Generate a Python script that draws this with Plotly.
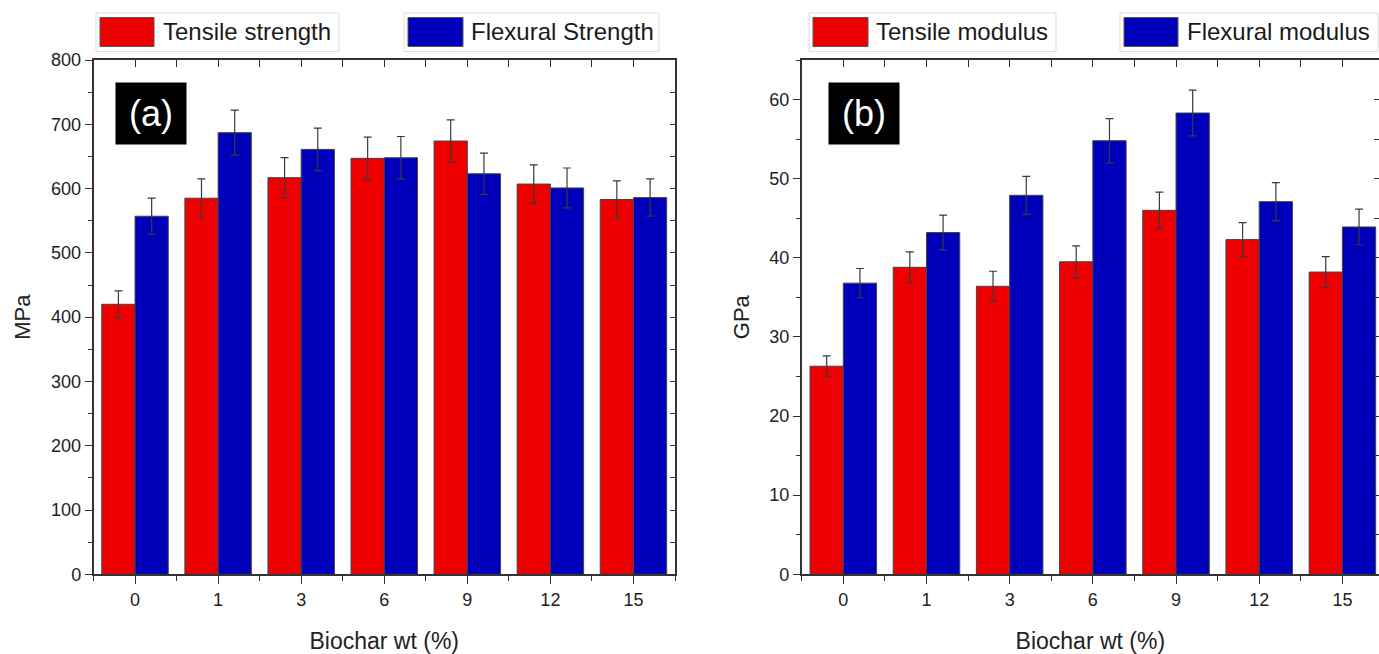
import plotly.graph_objects as go

# ---------------- data ----------------
biochar_wt = ["0", "1", "3", "6", "9", "12", "15"]

tensile_strength = [420, 585, 617, 647, 674, 607, 583]
tensile_strength_err = [21, 30, 31, 33, 33, 30, 29]
flexural_strength = [557, 687, 661, 648, 623, 601, 586]
flexural_strength_err = [28, 35, 33, 33, 32, 31, 29]

tensile_modulus = [26.3, 38.8, 36.4, 39.5, 46.0, 42.3, 38.2]
tensile_modulus_err = [1.3, 1.95, 1.9, 2.0, 2.3, 2.15, 1.95]
flexural_modulus = [36.8, 43.2, 47.9, 54.8, 58.3, 47.1, 43.9]
flexural_modulus_err = [1.85, 2.2, 2.4, 2.8, 2.9, 2.4, 2.25]

# ---------------- styling ----------------
W, H = 1379, 654
FONT = "Liberation Sans, Arial, sans-serif"
RED = "#EE0000"
BLUE = "#0000BB"
AXC = "#333333"
ERRC = "#3a3a3a"
xpos = list(range(len(biochar_wt)))


def px(x):
    return x / W


def py(y):
    return 1 - y / H


fig = go.Figure()


def bar(name, vals, errs, color, xa, ya):
    fig.add_trace(go.Bar(
        name=name, x=xpos, y=vals, xaxis=xa, yaxis=ya,
        marker=dict(color=color, line=dict(color="#444444", width=1)),
        error_y=dict(type="data", array=errs, color=ERRC, thickness=1.2, width=4),
        showlegend=False,
    ))


bar("Tensile strength", tensile_strength, tensile_strength_err, RED, "x", "y")
bar("Flexural Strength", flexural_strength, flexural_strength_err, BLUE, "x", "y")
bar("Tensile modulus", tensile_modulus, tensile_modulus_err, RED, "x2", "y2")
bar("Flexural modulus", flexural_modulus, flexural_modulus_err, BLUE, "x2", "y2")

# empty traces to activate the mirrored (inward-tick) frame axes
fig.add_trace(go.Scatter(x=[], y=[], xaxis="x3", yaxis="y3", showlegend=False, hoverinfo="skip"))
fig.add_trace(go.Scatter(x=[], y=[], xaxis="x4", yaxis="y4", showlegend=False, hoverinfo="skip"))

dom_a = [px(93.5), px(675)]
dom_b = [px(801.7), 1.0]
dom_y = [py(574.3), py(60)]
xr_a = [-0.5, 6.5]
xr_b = [-0.5, 6.44]
yr_a = [0, 800]
yr_b = [0, 65]

tickfont = dict(family=FONT, size=18, color="#222222")
titlefont = dict(family=FONT, size=23, color="#222222")


def xbottom(dom, rng, anchor):
    return dict(
        domain=dom, range=rng, anchor=anchor, tickmode="array", tickvals=xpos,
        ticktext=biochar_wt, ticks="outside", ticklen=8, tickwidth=1.3, tickcolor=AXC,
        minor=dict(tickmode="linear", tick0=0.5, dtick=1, ticks="outside", ticklen=5,
                   tickwidth=1.3, tickcolor=AXC),
        showline=True, linecolor=AXC, linewidth=1.5, mirror=True, showgrid=False,
        zeroline=False, tickfont=tickfont, automargin=False,
        title=dict(text="Biochar wt (%)", font=titlefont, standoff=24),
    )


def xtop(dom, rng, overlay, anchor):
    return dict(
        domain=dom, range=rng, overlaying=overlay, side="top", anchor=anchor,
        tickmode="array", tickvals=xpos, ticks="inside", ticklen=7, tickwidth=1.3,
        tickcolor=AXC,
        minor=dict(tickmode="linear", tick0=0.5, dtick=1, ticks="inside", ticklen=7,
                   tickwidth=1.3, tickcolor=AXC),
        showticklabels=False, showline=False, showgrid=False, zeroline=False,
        automargin=False,
    )


def yleft(rng, dtick, anchor, title):
    return dict(
        domain=dom_y, range=rng, anchor=anchor, tickmode="linear", tick0=0, dtick=dtick,
        ticks="outside", ticklen=7, tickwidth=1.3, tickcolor=AXC,
        minor=dict(tickmode="linear", tick0=0, dtick=dtick / 2, ticks="outside",
                   ticklen=4, tickwidth=1.3, tickcolor=AXC),
        showline=True, linecolor=AXC, linewidth=1.5, mirror=True, showgrid=False,
        zeroline=False, tickfont=tickfont, automargin=False,
        title=dict(text=title, font=dict(family=FONT, size=22, color="#222222"), standoff=14),
    )


def yright(rng, dtick, overlay, anchor):
    return dict(
        domain=dom_y, range=rng, overlaying=overlay, side="right", anchor=anchor,
        tickmode="linear", tick0=0, dtick=dtick, ticks="inside", ticklen=5,
        tickwidth=1.3, tickcolor=AXC,
        minor=dict(tickmode="linear", tick0=0, dtick=dtick / 2, ticks="inside",
                   ticklen=5, tickwidth=1.3, tickcolor=AXC),
        showticklabels=False, showline=False, showgrid=False, zeroline=False,
        automargin=False,
    )


fig.update_layout(
    width=W, height=H, margin=dict(l=0, r=0, t=0, b=0),
    paper_bgcolor="white", plot_bgcolor="white",
    barmode="group", bargap=0.2, bargroupgap=0, showlegend=False,
    font=dict(family=FONT, color="#222222"),
    xaxis=xbottom(dom_a, xr_a, "y"),
    yaxis=yleft(yr_a, 100, "x", "MPa"),
    xaxis2=xbottom(dom_b, xr_b, "y2"),
    yaxis2=yleft(yr_b, 10, "x2", "GPa"),
    xaxis3=xtop(dom_a, xr_a, "x", "y"),
    yaxis3=yright(yr_a, 100, "y", "x"),
    xaxis4=xtop(dom_b, xr_b, "x2", "y2"),
    yaxis4=yright(yr_b, 10, "y2", "x2"),
)

# ---------------- legend boxes (each entry boxed) ----------------
legend_entries = [
    # (box x0, box x1, swatch x0, swatch x1, text x, label, color)
    (96, 339, 100, 154, 161, "Tensile strength", RED),
    (404, 659, 408, 463, 469, "Flexural Strength", BLUE),
    (809, 1056, 813, 868, 874, "Tensile modulus", RED),
    (1120, 1378, 1124, 1178, 1185, "Flexural modulus", BLUE),
]
shapes = []
annotations = []
for bx0, bx1, sx0, sx1, tx, label, color in legend_entries:
    shapes.append(dict(type="rect", xref="paper", yref="paper",
                       x0=px(bx0), x1=px(bx1), y0=py(51.5), y1=py(13),
                       line=dict(color="#dddddd", width=1), fillcolor="white", layer="below"))
    shapes.append(dict(type="rect", xref="paper", yref="paper",
                       x0=px(sx0), x1=px(sx1), y0=py(46.5), y1=py(17.5),
                       line=dict(color="#555555", width=1), fillcolor=color))
    annotations.append(dict(xref="paper", yref="paper", x=px(tx), y=py(32),
                            xanchor="left", yanchor="middle", showarrow=False, text=label,
                            font=dict(family=FONT, size=24, color="#1a1a1a")))

# panel tags
for cx, tag in [(151, "(a)"), (863.5, "(b)")]:
    annotations.append(dict(xref="paper", yref="paper", x=px(cx), y=py(113),
                            xanchor="center", yanchor="middle", showarrow=False, text=tag,
                            width=68, height=59, bgcolor="black", borderpad=1,
                            font=dict(family=FONT, size=36, color="white")))

fig.update_layout(shapes=shapes, annotations=annotations)

fig.write_html("out.html")
